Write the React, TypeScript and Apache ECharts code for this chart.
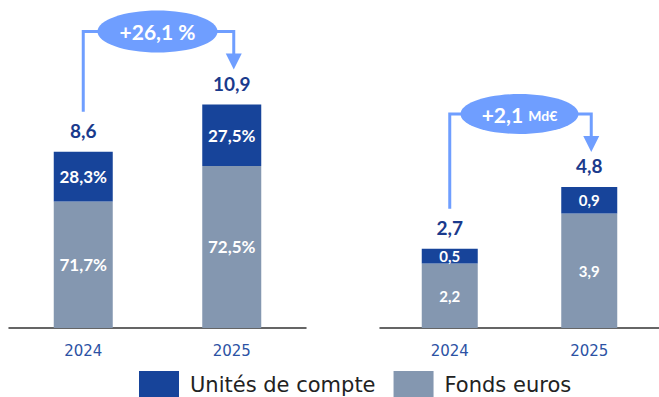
import React, { useEffect, useRef } from "react";
import * as echarts from "echarts";

// Years shown on both panels
const years = ["2024", "2025"];

// Left panel: total outstanding (Md€) and split by support (%)
const encoursTotal = [8.6, 10.9];
const partUC = [28.3, 27.5];
const partEuros = [71.7, 72.5];
const hausseEncours = "+26,1 %";

// Right panel: net inflows (Md€)
const collecteUC = [0.5, 0.9];
const collecteEuros = [2.2, 3.9];
const collecteTotal = [2.7, 4.8];
const hausseCollecte = "+2,1";
const hausseUnite = "Md€";

const DARK = "#17449a";
const GREY = "#8497b0";
const BUBBLE = "#6f9eff";
const VALUE_BLUE = "#1a3a8c";
const AXIS_BLUE = "#2c52a4";

const fmt = (v: number) => v.toFixed(1).replace(".", ",");

const encoursEuros = encoursTotal.map((t, i) => (t * partEuros[i]) / 100);
const encoursUC = encoursTotal.map((t, i) => (t * partUC[i]) / 100);

const xAxisBase = (gridIndex: number) => ({
  type: "category",
  gridIndex,
  data: years,
  axisLine: { lineStyle: { color: "#333", width: 1.5 } },
  axisTick: { show: false },
  axisLabel: {
    color: AXIS_BLUE,
    fontSize: 15,
    fontWeight: "normal",
    fontFamily: "DejaVu Sans",
    margin: 15,
  },
});

const yAxisBase = (gridIndex: number, max: number) => ({
  type: "value",
  gridIndex,
  min: 0,
  max,
  show: false,
  splitLine: { show: false },
});

const innerLabel = (fontSize: number, texts: string[]) => ({
  show: true,
  position: "inside",
  color: "#fff",
  fontWeight: "bold",
  fontFamily: "Lato",
  fontSize,
  formatter: (p: any) => texts[p.dataIndex],
});

// Invisible points carrying the total above each stack
const totalLabel = (totals: number[], gridIndex: number) => ({
  type: "scatter",
  name: "total" + gridIndex,
  xAxisIndex: gridIndex,
  yAxisIndex: gridIndex,
  data: totals,
  symbolSize: 2,
  itemStyle: { color: "rgba(0,0,0,0)", opacity: 1 },
  label: {
    show: true,
    position: "top",
    distance: 11,
    color: VALUE_BLUE,
    opacity: 1,
    fontWeight: "bold",
    fontFamily: "Lato",
    fontSize: 19,
    formatter: (p: any) => fmt(totals[p.dataIndex]),
  },
  silent: true,
  z: 5,
});

function bridge(
  chart: echarts.ECharts,
  seriesIndex: number,
  totals: number[],
  rx: number,
  ry: number,
  rich: any,
  text: string
) {
  const p0 = chart.convertToPixel({ seriesIndex }, [0, totals[0]]) as number[];
  const p1 = chart.convertToPixel({ seriesIndex }, [1, totals[1]]) as number[];
  const yLine = p1[1] - 73;
  const cx = (p0[0] + p1[0]) / 2;
  const ax = p1[0] + 2;
  const line = { stroke: BUBBLE, lineWidth: 3, fill: "none" };
  return [
    {
      type: "polyline",
      shape: {
        points: [
          [p0[0], p0[1] - 40],
          [p0[0], yLine],
          [cx - rx + 2, yLine],
        ],
      },
      style: line,
      silent: true,
    },
    {
      type: "polyline",
      shape: {
        points: [
          [cx + rx - 2, yLine],
          [ax, yLine],
          [ax, p1[1] - 50],
        ],
      },
      style: line,
      silent: true,
    },
    {
      type: "polygon",
      shape: {
        points: [
          [ax - 8, p1[1] - 51],
          [ax + 8, p1[1] - 51],
          [ax, p1[1] - 35],
        ],
      },
      style: { fill: BUBBLE },
      silent: true,
    },
    {
      type: "ellipse",
      shape: { cx, cy: yLine, rx, ry },
      style: { fill: BUBBLE },
      silent: true,
    },
    {
      type: "text",
      x: cx,
      y: yLine,
      style: {
        text,
        rich,
        align: "center",
        verticalAlign: "middle",
        fill: "#fff",
        fontFamily: "Lato",
        fontWeight: "bold",
        fontSize: 21,
      },
      silent: true,
    },
  ];
}

export default function App() {
  const ref = useRef<HTMLDivElement>(null);

  useEffect(() => {
    if (!ref.current) return;
    const chart = echarts.init(ref.current, undefined, { renderer: "svg" });

    chart.setOption({
      animation: false,
      backgroundColor: "#fff",
      grid: [
        { left: 9, width: 297, top: 82, height: 246 },
        { left: 380, width: 282, top: 93, height: 235 },
      ],
      xAxis: [xAxisBase(0), xAxisBase(1)],
      yAxis: [yAxisBase(0, 12), yAxisBase(1, 8)],
      legend: {
        data: ["Unités de compte", "Fonds euros"],
        left: 139,
        top: 371,
        padding: 0,
        itemWidth: 40,
        itemHeight: 27,
        itemGap: 18,
        icon: "rect",
        selectedMode: false,
        textStyle: {
          fontSize: 21,
          fontFamily: "DejaVu Sans",
          color: "#222",
          padding: [0, 0, 0, 6],
        },
      },
      series: [
        {
          type: "bar",
          name: "Fonds euros",
          xAxisIndex: 0,
          yAxisIndex: 0,
          stack: "encours",
          barWidth: 59,
          data: encoursEuros,
          itemStyle: { color: GREY },
          label: innerLabel(17, partEuros.map((v) => fmt(v) + "%")),
        },
        {
          type: "bar",
          name: "Unités de compte",
          xAxisIndex: 0,
          yAxisIndex: 0,
          stack: "encours",
          barWidth: 59,
          data: encoursUC,
          itemStyle: { color: DARK },
          label: innerLabel(17, partUC.map((v) => fmt(v) + "%")),
        },
        totalLabel(encoursTotal, 0),
        {
          type: "bar",
          name: "Fonds euros",
          xAxisIndex: 1,
          yAxisIndex: 1,
          stack: "collecte",
          barWidth: 56,
          data: collecteEuros,
          itemStyle: { color: GREY },
          label: innerLabel(15, collecteEuros.map(fmt)),
        },
        {
          type: "bar",
          name: "Unités de compte",
          xAxisIndex: 1,
          yAxisIndex: 1,
          stack: "collecte",
          barWidth: 56,
          data: collecteUC,
          itemStyle: { color: DARK },
          label: innerLabel(15, collecteUC.map(fmt)),
        },
        totalLabel(collecteTotal, 1),
      ],
    });

    const rich = {
      big: { fontSize: 21, fontWeight: "bold", fontFamily: "Lato", color: "#fff" },
      small: {
        fontSize: 14,
        fontWeight: "bold",
        fontFamily: "Lato",
        color: "#fff",
        padding: [3, 0, 0, 0],
      },
    };

    chart.setOption({
      graphic: [
        ...bridge(chart, 0, encoursTotal, 60, 21, rich, "{big|" + hausseEncours + "}"),
        ...bridge(
          chart,
          3,
          collecteTotal,
          59,
          20,
          rich,
          "{big|" + hausseCollecte + " }{small|" + hausseUnite + "}"
        ),
      ],
    });

    return () => chart.dispose();
  }, []);

  return (
    <div
      ref={ref}
      style={{ position: "fixed", left: 0, top: 0, width: 659, height: 397 }}
    />
  );
}
